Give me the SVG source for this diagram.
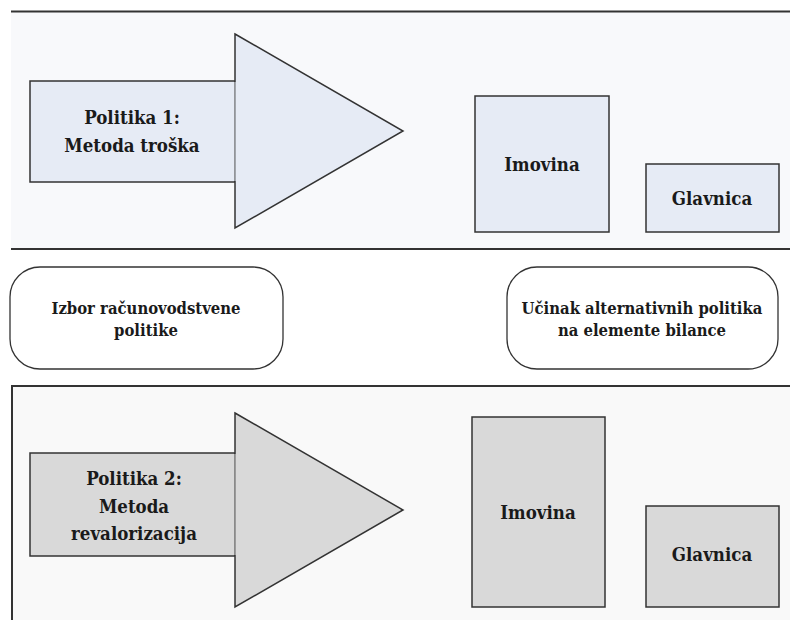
<svg xmlns="http://www.w3.org/2000/svg" width="790" height="620" viewBox="0 0 790 620">
<style>
.big{font-size:18.5px}
.mid{font-size:16.5px}
.sh{stroke:#333;stroke-width:1.5}
.p1{fill:#e6ebf5}
.p2{fill:#d9d9d9}
.div{stroke:#333;stroke-width:2;fill:none}
</style>
<rect width="790" height="620" fill="#ffffff"/>
<g id="panel-top">
<rect x="11" y="11.5" width="779" height="237.5" fill="#f8f9fb"/>
<line class="div" x1="11" y1="11.5" x2="790" y2="11.5"/>
</g>
<g id="panel-bottom">
<rect x="12" y="386" width="778" height="234" fill="#f9f9f9"/>
<line class="div" x1="11" y1="386" x2="790" y2="386"/>
<line class="div" x1="12" y1="386" x2="12" y2="620"/>
</g>
<g id="dividers">
<line class="div" x1="11" y1="249" x2="790" y2="249"/>
</g>
<g font-family="DejaVu Serif, serif" font-stretch="condensed" font-weight="bold" fill="#1a1a1a" text-anchor="middle">
<g id="arrow1">
<rect class="sh p1" x="30" y="81" width="205" height="101"/>
<polygon class="sh p1" points="235,34 403,131 235,228"/>
<line x1="235" y1="82" x2="235" y2="181" stroke="#e6ebf5" stroke-width="1"/>
<text class="big" x="132" y="124">Politika 1:</text>
<text class="big" x="132" y="152">Metoda troška</text>
</g>
<g id="imovina1">
<rect class="sh p1" x="475" y="96" width="134" height="136"/>
<text class="big" x="542" y="171">Imovina</text>
</g>
<g id="glavnica1">
<rect class="sh p1" x="646" y="164" width="133" height="68"/>
<text class="big" x="712" y="205">Glavnica</text>
</g>
<g id="izbor">
<rect x="10" y="267" width="273" height="102" rx="30" ry="30" fill="#ffffff" stroke="#333" stroke-width="1.3"/>
<text class="mid" x="146" y="314">Izbor računovodstvene</text>
<text class="mid" x="146" y="336">politike</text>
</g>
<g id="ucinak">
<rect x="507" y="267" width="271" height="102" rx="30" ry="30" fill="#ffffff" stroke="#333" stroke-width="1.3"/>
<text class="mid" x="642" y="314">Učinak alternativnih politika</text>
<text class="mid" x="642" y="336">na elemente bilance</text>
</g>
<g id="arrow2">
<rect class="sh p2" x="30" y="453" width="205" height="103"/>
<polygon class="sh p2" points="235,413 403,510 235,607"/>
<line x1="235" y1="454" x2="235" y2="555" stroke="#d9d9d9" stroke-width="1"/>
<text class="big" x="134" y="485">Politika 2:</text>
<text class="big" x="134" y="513">Metoda</text>
<text class="big" x="134" y="540">revalorizacija</text>
</g>
<g id="imovina2">
<rect class="sh p2" x="472" y="417" width="133" height="190"/>
<text class="big" x="538" y="519">Imovina</text>
</g>
<g id="glavnica2">
<rect class="sh p2" x="646" y="506" width="133" height="101"/>
<text class="big" x="712" y="561">Glavnica</text>
</g>
</g>
<g id="connectors"></g>
</svg>
